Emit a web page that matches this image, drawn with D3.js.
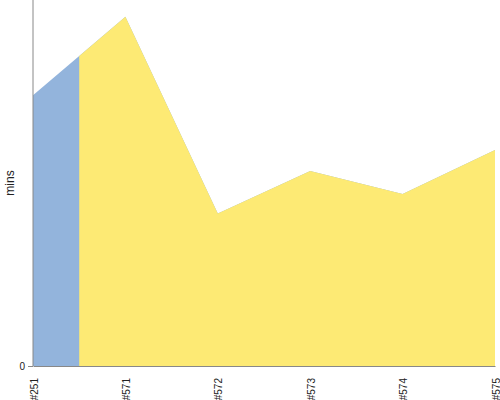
<!DOCTYPE html>
<html>
<head>
<meta charset="utf-8">
<script src="https://cdn.jsdelivr.net/npm/d3@7"></script>
<style>
body{margin:0;background:#fff;}
text{font-family:"Liberation Sans",Arial,sans-serif;}
</style>
</head>
<body>
<svg id="chart" width="500" height="400"></svg>
<script>
const categories = ["#251","#571","#572","#573","#574","#575"];
const values = [74.0, 95.4, 41.7, 53.3, 47.0, 59.0];
const groups = ["a","b","b","b","b","b"];
const groupColors = {a:"#93b4dc", b:"#fdea74"};
const yTicks = [0];

const svg = d3.select("#chart");
const margin = {left:33, right:5, top:0, bottom:34};
const W = 500, H = 400;
const x = d3.scalePoint().domain(categories).range([margin.left, W - margin.right]);
const y = d3.scaleLinear().domain([0, 100]).range([H - margin.bottom, margin.top]);

const data = categories.map((c,i)=>({c, v:values[i], g:groups[i]}));
const area = d3.area().x(d=>x(d.c)).y0(y(0)).y1(d=>y(d.v));

// contiguous runs of the same group; each later run is drawn over the earlier one
const runs = [];
data.forEach((d,i)=>{
  if (runs.length && runs[runs.length-1].g === d.g) runs[runs.length-1].end = i;
  else runs.push({g:d.g, start:i, end:i});
});

const xEnd = x(categories[categories.length-1]);
const defs = svg.append("defs");
runs.forEach((r,k)=>{
  const x0 = r.start===0 ? x(data[0].c) : (x(data[r.start-1].c)+x(data[r.start].c))/2;
  defs.append("clipPath").attr("id","clip"+k)
    .append("rect").attr("x",x0).attr("y",0).attr("width",xEnd-x0).attr("height",H);
  svg.append("path").datum(data).attr("d",area)
    .attr("fill",groupColors[r.g]).attr("clip-path","url(#clip"+k+")");
});

const yAxis = svg.append("g").attr("transform",`translate(${margin.left},0)`)
  .call(d3.axisLeft(y).tickValues(yTicks).tickSize(5).tickPadding(3));
yAxis.select(".domain").attr("stroke","#888").attr("d",`M0,${y(0)}V0`);
yAxis.selectAll(".tick line").attr("stroke","#888");
yAxis.selectAll("text").attr("font-size",10).attr("fill","#222");

const xAxis = svg.append("g").attr("transform",`translate(0,${y(0)})`)
  .call(d3.axisBottom(x).tickSize(0).tickPadding(6));
xAxis.select(".domain").attr("stroke","#888");
xAxis.selectAll("text").attr("font-size",10).attr("fill","#222")
  .attr("transform","rotate(-90)").attr("text-anchor","end")
  .attr("dx","-0.6em").attr("dy","0.4em").attr("y",0).attr("x",-6);

svg.append("text").attr("transform",`translate(14,${(y(0)+margin.top)/2}) rotate(-90)`)
  .attr("text-anchor","middle").attr("font-size",12).attr("fill","#222").text("mins");
</script>
</body>
</html>
